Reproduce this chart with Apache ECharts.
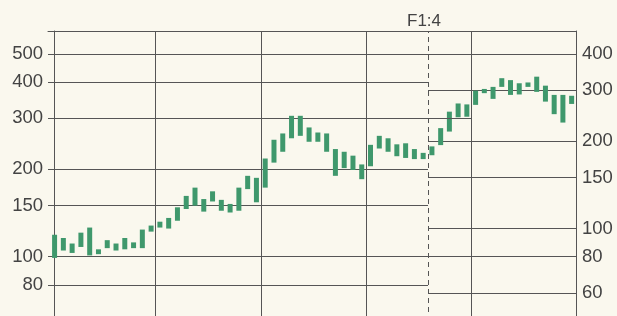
<!DOCTYPE html>
<html>
<head>
<meta charset="utf-8">
<script src="https://cdn.jsdelivr.net/npm/echarts@6/dist/echarts.min.js"></script>
<style>
html,body{margin:0;padding:0;background:#faf8ee;}
#chart{width:617px;height:316px;}
</style>
</head>
<body>
<div id="chart"></div>
<script>
// Monthly price ranges (low / high), five years, 60 months (index 0..59)
// Before the bonus issue (F1:4), values on the left scale
const lowPre  = [99,105,103,108,101,102,107,105,106,107,107,122,126,125,133,146,150,143,155,144,142,144,171,154,173,211,230,256,261,249,249,230,190,202,199,185,205,236,230,222,219,217,217];
const highPre = [119,116,111,121,126,106,114,111,116,112,124,128,132,136,148,162,173,158,168,157,152,173,190,187,218,253,266,306,306,279,268,266,235,230,223,208,243,261,256,244,246,235,228];
// After the bonus issue, values on the right scale
const lowPost  = [179,194,216,242,243,267,293,280,308,289,290,308,296,274,248,232,269];
const highPost = [192,222,253,270,268,299,303,308,330,325,317,319,334,311,289,289,287];
const monthsPre  = lowPre.map((_, i) => i);
const monthsPost = lowPost.map((_, i) => i + lowPre.length);
const splitMonth = 42.55;              // date of the F1:4 bonus issue
const splitLabel = 'F1:4';
const yearLinesPre  = [11.5, 23.5, 35.5];
const yearLinesPost = [47.5];
const leftTicks  = [80, 100, 150, 200, 300, 400, 500];
const rightTicks = [60, 80, 100, 150, 200, 300, 400];
const leftRange  = [60, 600];
const rightRange = [48, 480];
const extendedLeftLine = 300;          // left 300 line continues past the split
const bonusFactor = 1.25;

const GREEN = '#3f986c';
const GRID = '#555555';
const TEXT = '#434343';
const FONT = 'Liberation Sans';

const preData  = monthsPre.map((m, i) => [m, lowPre[i], highPre[i]]);
const postData = monthsPost.map((m, i) => [m, lowPost[i], highPost[i]]);

function renderRange(params, api) {
  const x = api.value(0);
  const lo = api.coord([x, api.value(1)]);
  const hi = api.coord([x, api.value(2)]);
  const w = 5;
  return {
    type: 'rect',
    shape: { x: lo[0] - w / 2, y: hi[1], width: w, height: lo[1] - hi[1] },
    style: { fill: GREEN }
  };
}

const chart = echarts.init(document.getElementById('chart'), null, { renderer: 'canvas' });
chart.setOption({
  backgroundColor: '#faf8ee',
  animation: false,
  grid: [
    { left: 48, top: 31, width: 380, height: 290, outerBoundsMode: 'none', containLabel: false },
    { left: 428, top: 31, width: 148, height: 290, outerBoundsMode: 'none', containLabel: false }
  ],
  xAxis: [
    {
      type: 'value', gridIndex: 0, position: 'top', min: -0.75, max: splitMonth,
      axisLine: { show: true, lineStyle: { color: GRID, width: 1 } },
      axisTick: { show: false, customValues: yearLinesPre },
      axisLabel: { show: false },
      splitLine: { show: true, lineStyle: { color: GRID, width: 1 } }
    },
    {
      type: 'value', gridIndex: 1, position: 'top', min: splitMonth, max: 59.5,
      axisLine: { show: true, lineStyle: { color: GRID, width: 1 } },
      axisTick: { show: false, customValues: yearLinesPost },
      axisLabel: { show: false },
      splitLine: { show: true, lineStyle: { color: GRID, width: 1 } }
    }
  ],
  yAxis: [
    {
      type: 'log', gridIndex: 0, position: 'left', logBase: 10,
      min: leftRange[0], max: leftRange[1],
      axisLine: { show: true, lineStyle: { color: GRID, width: 1 } },
      axisTick: { show: false, customValues: leftTicks },
      axisLabel: { customValues: leftTicks, color: TEXT, fontFamily: FONT, fontSize: 18.5, margin: 5 },
      splitLine: { show: true, lineStyle: { color: GRID, width: 1 } }
    },
    {
      type: 'log', gridIndex: 1, position: 'right', logBase: 10,
      min: rightRange[0], max: rightRange[1],
      axisLine: { show: true, lineStyle: { color: GRID, width: 1 } },
      axisTick: { show: false, customValues: rightTicks },
      axisLabel: { customValues: rightTicks, color: TEXT, fontFamily: FONT, fontSize: 18.5, margin: 6 },
      splitLine: { show: true, lineStyle: { color: GRID, width: 1 } }
    }
  ],
  series: [
    {
      type: 'custom', name: 'pre', xAxisIndex: 0, yAxisIndex: 0,
      renderItem: renderRange, encode: { x: 0, y: [1, 2] }, data: preData, clip: false
    },
    {
      type: 'custom', name: 'post', xAxisIndex: 1, yAxisIndex: 1,
      renderItem: renderRange, encode: { x: 0, y: [1, 2] }, data: postData, clip: false,
      markLine: {
        silent: true, symbol: 'none',
        data: [
          {
            xAxis: splitMonth,
            lineStyle: { color: GRID, type: [5, 4], width: 1 },
            label: { show: true, position: 'end', formatter: splitLabel, color: TEXT, fontFamily: FONT, fontSize: 17, distance: 1, offset: [-4, 0] }
          },
          [
            { coord: [splitMonth, extendedLeftLine / bonusFactor], lineStyle: { color: GRID, type: 'solid', width: 1 }, label: { show: false } },
            { coord: [yearLinesPost[0], extendedLeftLine / bonusFactor] }
          ]
        ]
      }
    }
  ]
});
</script>
</body>
</html>
